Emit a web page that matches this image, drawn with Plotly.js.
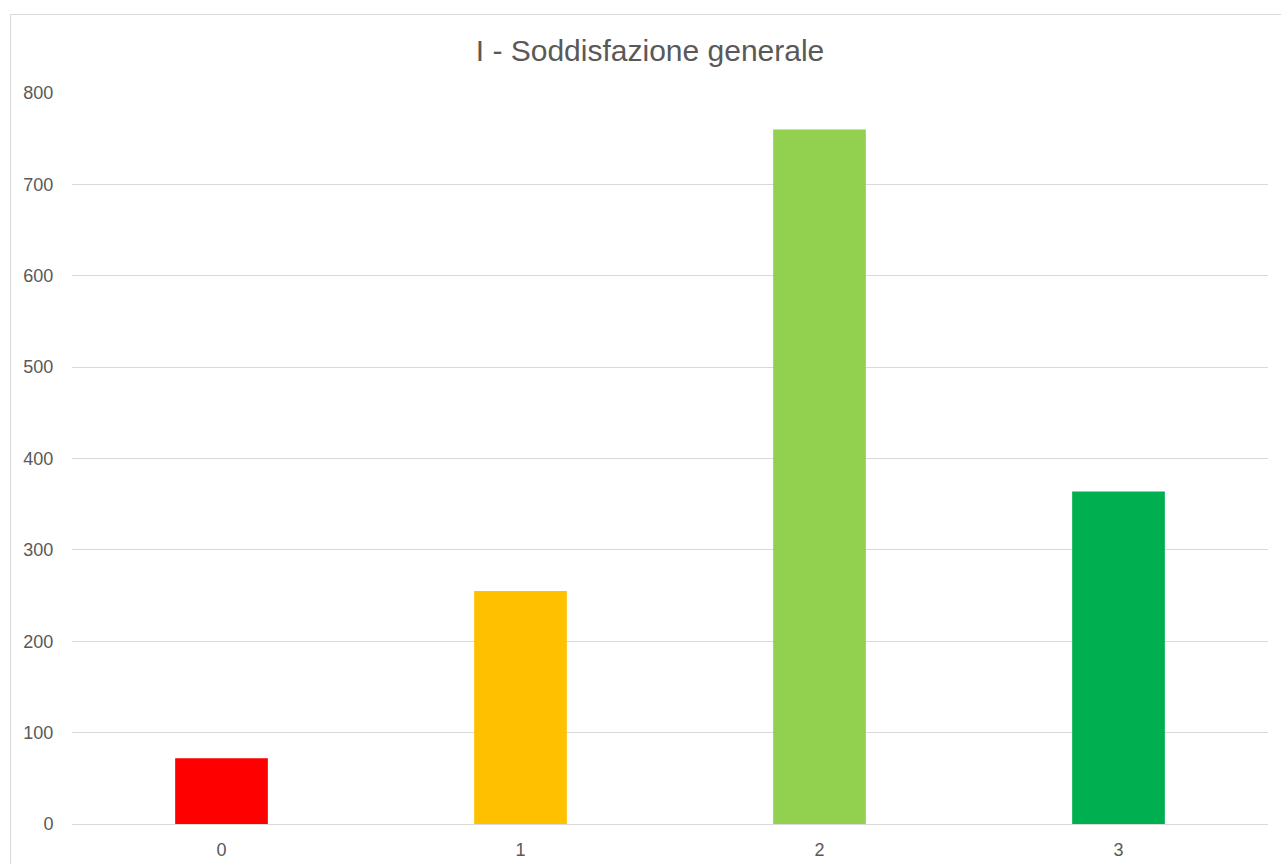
<!DOCTYPE html>
<html>
<head>
<meta charset="utf-8">
<script src="https://cdn.plot.ly/plotly-3.0.1.min.js"></script>
<style>
html, body { margin: 0; padding: 0; background: #fff; overflow: hidden; }
#frame { position: absolute; left: 10px; top: 14px; width: 1400px; height: 1000px; border: 1px solid #d9d9d9; box-sizing: border-box; }
#chart { position: absolute; left: 0; top: 0; width: 1281px; height: 864px; }
</style>
</head>
<body>
<div id="frame"></div>
<div id="chart"></div>
<script>
const categories = ['0', '1', '2', '3'];
const values = [72, 255, 760, 364];
const colors = ['#ff0000', '#ffc000', '#92d050', '#00b050'];
const yTicks = [0, 100, 200, 300, 400, 500, 600, 700, 800];
const titleText = 'I - Soddisfazione generale';

const font = '"Liberation Sans", Arial, Helvetica, sans-serif';
const trace = {
  type: 'bar',
  x: categories,
  y: values,
  marker: { color: colors, line: { width: 0 } },
  width: 0.31,
  hoverinfo: 'x+y'
};
const layout = {
  width: 1281,
  height: 864,
  margin: { l: 72, r: 13, t: 93, b: 40, pad: 0 },
  paper_bgcolor: 'rgba(0,0,0,0)',
  plot_bgcolor: 'rgba(0,0,0,0)',
  showlegend: false,
  title: {
    text: titleText,
    font: { family: font, size: 30, color: '#595959' },
    x: 650 / 1281, xref: 'container', xanchor: 'center',
    y: 1 - 50 / 864, yref: 'container', yanchor: 'middle'
  },
  xaxis: {
    type: 'category',
    range: [-0.5, 3.5],
    showgrid: false,
    zeroline: false,
    showline: false,
    ticks: 'outside', ticklen: 9, tickcolor: 'rgba(0,0,0,0)',
    tickfont: { family: font, size: 18, color: '#595959' },
    fixedrange: true
  },
  yaxis: {
    range: [0, 800],
    tickvals: yTicks,
    ticktext: yTicks.map(String),
    showgrid: true,
    gridcolor: '#d9d9d9',
    gridwidth: 1,
    zeroline: true,
    zerolinecolor: '#d9d9d9',
    zerolinewidth: 1,
    showline: false,
    ticks: 'outside', ticklen: 14, tickcolor: 'rgba(0,0,0,0)',
    tickfont: { family: font, size: 18, color: '#595959' },
    fixedrange: true
  }
};
Plotly.newPlot('chart', [trace], layout, { displayModeBar: false, staticPlot: true });
</script>
</body>
</html>
